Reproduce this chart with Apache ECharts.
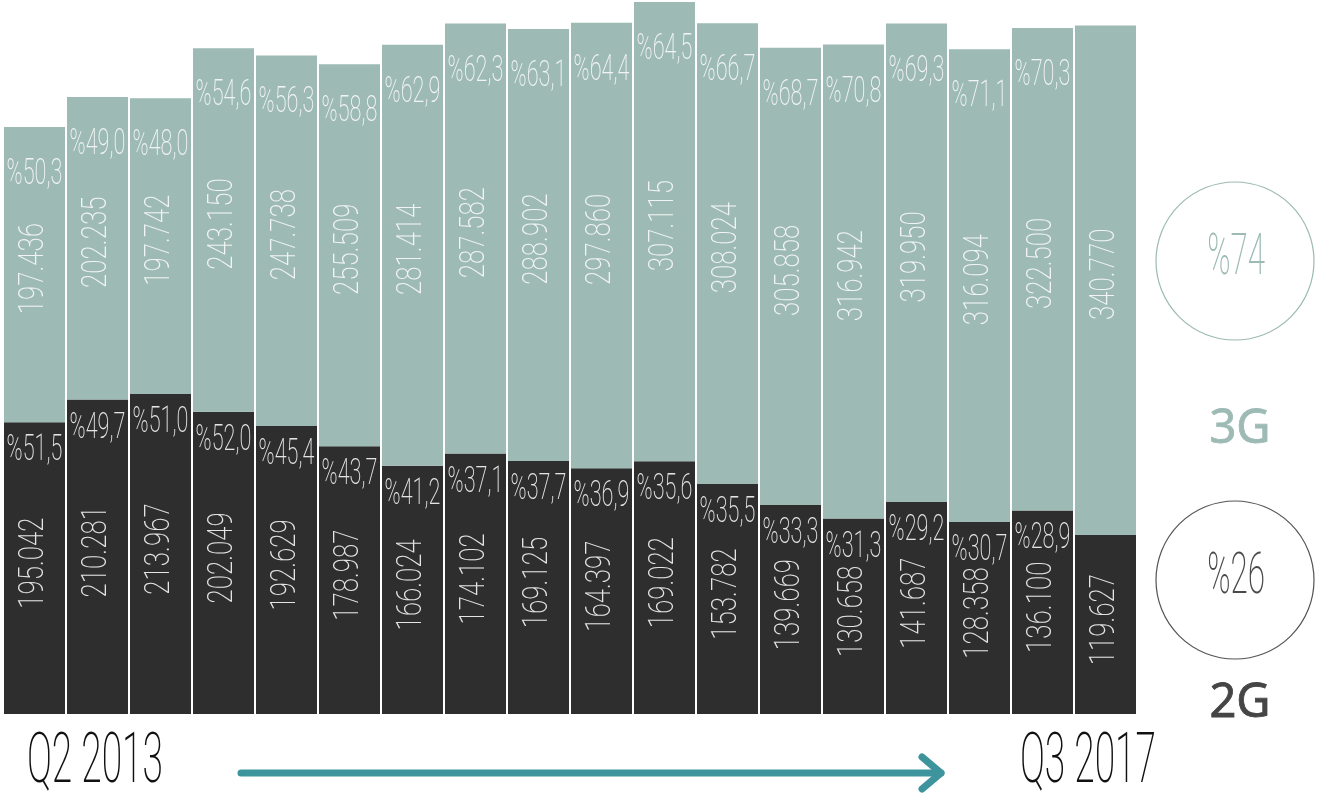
<!DOCTYPE html>
<html>
<head>
<meta charset="utf-8">
<script src="https://cdn.jsdelivr.net/npm/echarts@6/dist/echarts.min.js"></script>
<style>
  html, body { margin: 0; padding: 0; background: #ffffff; }
  #chart { width: 1331px; height: 796px; }
</style>
</head>
<body>
<div id="chart"></div>
<script>
// Quarterly subscriber counts, 2G vs 3G
const quarters = [
  'Q2 2013', 'Q3 2013', 'Q4 2013',
  'Q1 2014', 'Q2 2014', 'Q3 2014', 'Q4 2014',
  'Q1 2015', 'Q2 2015', 'Q3 2015', 'Q4 2015',
  'Q1 2016', 'Q2 2016', 'Q3 2016', 'Q4 2016',
  'Q1 2017', 'Q2 2017', 'Q3 2017'
];
const subs2G = [195042, 210281, 213967, 202049, 192629, 178987, 166024, 174102, 169125,
                164397, 169022, 153782, 139669, 130658, 141687, 128358, 136100, 119627];
const subs3G = [197436, 202235, 197742, 243150, 247738, 255509, 281414, 287582, 288902,
                297860, 307115, 308024, 305858, 316942, 319950, 316094, 322500, 340770];
const share2G = ['%51,5', '%49,7', '%51,0', '%52,0', '%45,4', '%43,7', '%41,2', '%37,1', '%37,7',
                 '%36,9', '%35,6', '%35,5', '%33,3', '%31,3', '%29,2', '%30,7', '%28,9', ''];
const share3G = ['%50,3', '%49,0', '%48,0', '%54,6', '%56,3', '%58,8', '%62,9', '%62,3', '%63,1',
                 '%64,4', '%64,5', '%66,7', '%68,7', '%70,8', '%69,3', '%71,1', '%70,3', ''];
const finalShare = { g3: '%74', g2: '%26' };
const seriesNames = { g3: '3G', g2: '2G' };

const COLOR_3G = '#9dbab4';
const COLOR_2G = '#2e2e2e';
const THIN_FONT = 'Roboto, "Liberation Sans Narrow", "DejaVu Sans Condensed", sans-serif';
const BADGE_FONT = '"Noto Sans", sans-serif';

function fmtThousands(v) {
  return String(v).replace(/\B(?=(\d{3})+(?!\d))/g, '.');
}

// Narrow, light text element (scaled along its reading direction)
function thinText(x, y, text, opts) {
  return {
    type: 'text',
    x: x, y: y,
    rotation: opts.rotation || 0,
    scaleX: opts.scaleX || 1,
    silent: true,
    style: {
      text: text,
      fill: opts.color,
      font: (opts.weight || 200) + ' ' + opts.size + 'px ' + THIN_FONT,
      align: opts.align || 'center',
      verticalAlign: 'middle'
    }
  };
}

const chart = echarts.init(document.getElementById('chart'), null, { renderer: 'canvas' });

const labelData = quarters.map((q, i) => [i, subs2G[i], subs3G[i]]);

const option = {
  animation: false,
  backgroundColor: '#ffffff',
  grid: { left: 3, right: 194, top: 0, bottom: 82, containLabel: false },
  xAxis: {
    type: 'category',
    data: quarters,
    show: false
  },
  yAxis: {
    type: 'value',
    min: 0,
    max: 477400,
    show: false
  },
  series: [
    {
      name: seriesNames.g2,
      type: 'bar',
      stack: 'subs',
      barWidth: 61,
      itemStyle: { color: COLOR_2G },
      data: subs2G
    },
    {
      name: seriesNames.g3,
      type: 'bar',
      stack: 'subs',
      barWidth: 61,
      itemStyle: { color: COLOR_3G },
      data: subs3G
    },
    {
      // value and share labels placed on the stacked bars
      type: 'custom',
      silent: true,
      clip: false,
      encode: { x: 0, y: 1 },
      data: labelData,
      z: 10,
      renderItem: function (params, api) {
        const i = api.value(0);
        const v2 = api.value(1);
        const v3 = api.value(2);
        const base = api.coord([i, 0]);
        const top2 = api.coord([i, v2]);
        const top3 = api.coord([i, v2 + v3]);
        const cx = base[0];
        const children = [];
        // 3G value, vertical
        children.push(thinText(cx, (top2[1] + top3[1]) / 2 - 6, fmtThousands(v3),
          { color: '#f1f4f3', size: 35, rotation: Math.PI / 2, scaleX: 0.74 }));
        // 2G value, vertical
        children.push(thinText(cx, (base[1] + top2[1]) / 2 - 5, fmtThousands(v2),
          { color: '#e4e4e4', size: 35, rotation: Math.PI / 2, scaleX: 0.74 }));
        if (share3G[i]) {
          children.push(thinText(cx, top3[1] + 48, share3G[i],
            { color: '#f1f4f3', size: 36, scaleX: 0.6 }));
        }
        if (share2G[i]) {
          children.push(thinText(cx, top2[1] + 29, share2G[i],
            { color: '#e4e4e4', size: 36, scaleX: 0.6 }));
        }
        return { type: 'group', children: children };
      }
    }
  ],
  graphic: [
    // 3G summary badge
    {
      type: 'circle', shape: { cx: 1235, cy: 261, r: 79 }, silent: true,
      style: { fill: 'none', stroke: COLOR_3G, lineWidth: 1.2 }
    },
    thinText(1236, 259, finalShare.g3, { color: COLOR_3G, size: 58, scaleX: 0.54 }),
    {
      type: 'text', x: 1240, y: 430, silent: true,
      style: { text: seriesNames.g3, fill: COLOR_3G, font: '400 47px ' + BADGE_FONT,
               stroke: COLOR_3G, lineWidth: 0.8,
               align: 'center', verticalAlign: 'middle' }
    },
    // 2G summary badge
    {
      type: 'circle', shape: { cx: 1235, cy: 580, r: 79 }, silent: true,
      style: { fill: 'none', stroke: '#555555', lineWidth: 1.2 }
    },
    thinText(1236, 578, finalShare.g2, { color: '#4a4a4a', size: 58, scaleX: 0.54 }),
    {
      type: 'text', x: 1240, y: 704, silent: true,
      style: { text: seriesNames.g2, fill: '#454545', font: '400 47px ' + BADGE_FONT,
               stroke: '#454545', lineWidth: 0.8,
               align: 'center', verticalAlign: 'middle' }
    },
    // period labels
    thinText(27, 764, quarters[0], { color: '#111111', size: 70, scaleX: 0.53, align: 'left' }),
    thinText(1020, 764, quarters[quarters.length - 1], { color: '#111111', size: 70, scaleX: 0.53, align: 'left' }),
    // time arrow
    {
      type: 'polyline', silent: true,
      shape: { points: [[241, 773], [941, 773]] },
      style: { stroke: '#3e949c', lineWidth: 7, lineCap: 'round', fill: 'none' }
    },
    {
      type: 'polyline', silent: true,
      shape: { points: [[922, 757], [941, 773], [922, 789]] },
      style: { stroke: '#3e949c', lineWidth: 7, lineCap: 'round', lineJoin: 'round', fill: 'none' }
    }
  ]
};

chart.setOption(option);
</script>
</body>
</html>
